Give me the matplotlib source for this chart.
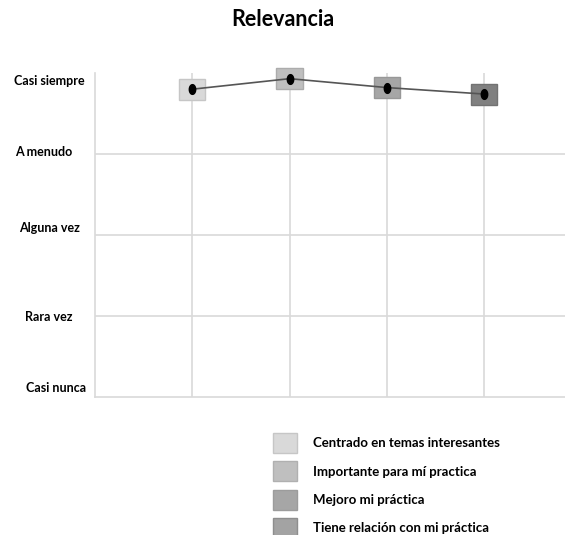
import matplotlib
matplotlib.use("Agg")
import matplotlib.pyplot as plt
from matplotlib.patches import Rectangle, Patch
from matplotlib.path import Path
from matplotlib.transforms import ScaledTranslation
import numpy as np

plt.rcParams['font.family'] = ['Lato', 'DejaVu Sans']

# Likert scale used on the y axis
levels = [1, 2, 3, 4, 5]
level_labels = ['Casi nunca', 'Rara vez', 'Alguna vez', 'A menudo', 'Casi siempre']

# mean answer per item
items = ['Centrado en temas interesantes', 'Importante para mí practica',
         'Mejoro mi práctica', 'Tiene relación con mi práctica']
positions = [1, 2, 3, 4]
means = [4.80, 4.93, 4.82, 4.74]

box_colors = ['#d9d9d9', '#bfbfbf', '#a6a6a6', '#808080']
box_edges = ['#c6c6c6', '#acacac', '#989898', '#727272']
legend_colors = ['#d9d9d9', '#bfbfbf', '#a6a6a6', '#a3a3a3']
legend_edges = ['#c6c6c6', '#b0b0b0', '#9c9c9c', '#8e8e8e']

fig = plt.figure(figsize=(5.65, 5.35), dpi=100)
ax = fig.add_axes([95 / 565, 1 - 397 / 535, 1 - 95 / 565, (397 - 73) / 535])

ax.set_xlim(0, 4.83)
ax.set_ylim(1, 5)

# grid
for v in levels[1:4]:
    ax.axhline(v, color='#d9d9d9', lw=1.2, zorder=0)
for p in positions:
    ax.axvline(p, color='#d9d9d9', lw=1.2, zorder=0)

for side in ['top', 'right']:
    ax.spines[side].set_visible(False)
for side in ['left', 'bottom']:
    ax.spines[side].set_color('#d9d9d9')
    ax.spines[side].set_linewidth(1.2)

ax.set_xticks(positions)
ax.set_xticklabels([])
ax.tick_params(axis='x', length=0)
ax.set_yticks(levels)
ax.set_yticklabels(level_labels, fontsize=9, fontweight='bold', ha='center')
ax.tick_params(axis='y', length=0, pad=33)

# small nudges of the scale labels (points; dx positive = right, dy positive = up)
nudges = [(5, 7), (0, 0), (0, 6), (-4, 2), (0, -5)]
for lab, (dx, dy) in zip(ax.get_yticklabels(), nudges):
    lab.set_transform(lab.get_transform() + ScaledTranslation(dx / 72, dy / 72, fig.dpi_scale_trans))

# shaded boxes behind each point
for p, m, fc, ec in zip(positions, means, box_colors, box_edges):
    ax.add_patch(Rectangle((p - 0.135, m - 0.13), 0.27, 0.26, facecolor=fc,
                           edgecolor=ec, lw=1, zorder=2, clip_on=False))

# slightly tall oval marker
t = np.linspace(0, 2 * np.pi, 40)
oval = Path(np.column_stack([0.66 * np.cos(t), np.sin(t)]))

ax.plot(positions, means, color='#555555', lw=1.2, zorder=3, clip_on=False)
ax.plot(positions, means, linestyle='none', marker=oval, markersize=7,
        color='black', zorder=4, clip_on=False)

fig.text(0.5, 1 - 20 / 535, 'Relevancia', ha='center', va='center',
         fontsize=15.5, fontweight='bold')

handles = [Patch(facecolor=c, edgecolor=e, lw=1) for c, e in zip(legend_colors, legend_edges)]
fig.legend(handles, items, loc='upper left', bbox_to_anchor=(273 / 565, 1 - 433 / 535),
           frameon=False, borderpad=0, borderaxespad=0,
           prop={'weight': 'bold', 'size': 9.5},
           handlelength=1.82, handleheight=1.95, handletextpad=1.21, labelspacing=0.64)

fig.savefig('out.png', dpi=100)
